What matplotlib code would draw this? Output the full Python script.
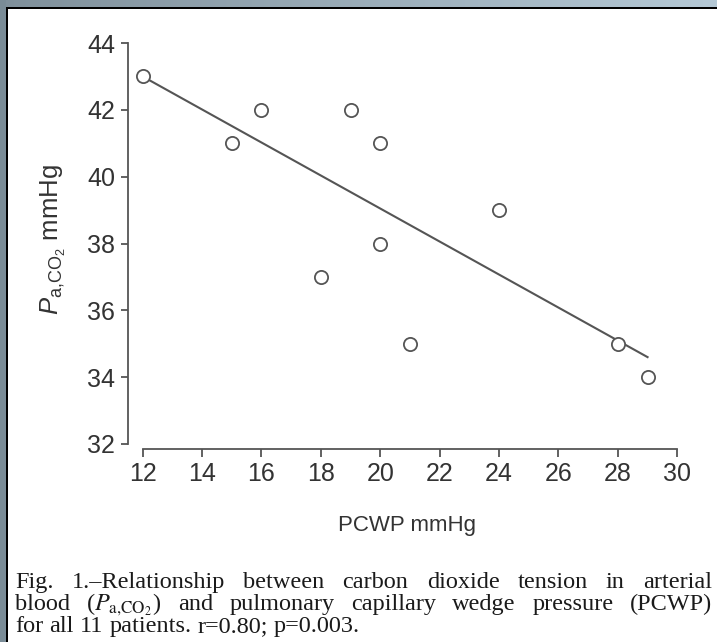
import matplotlib
matplotlib.use('Agg')
import matplotlib.pyplot as plt
import numpy as np
from matplotlib.patches import Rectangle
from matplotlib.colors import LinearSegmentedColormap
from matplotlib.transforms import IdentityTransform

plt.rcParams['font.family'] = ['Liberation Sans', 'DejaVu Sans']
plt.rcParams['mathtext.fontset'] = 'custom'
plt.rcParams['mathtext.rm'] = 'Liberation Sans'
plt.rcParams['mathtext.it'] = 'Liberation Sans:italic'
plt.rcParams['mathtext.bf'] = 'Liberation Sans:bold'

# ---- data ----
pcwp = [12, 15, 16, 18, 19, 20, 20, 21, 24, 28, 29]
paco2 = [43, 41, 42, 37, 42, 41, 38, 35, 39, 35, 34]
fit_x = [12, 29]
fit_y = [43.0, 34.6]
xticks = [12, 14, 16, 18, 20, 22, 24, 26, 28, 30]
yticks = [32, 34, 36, 38, 40, 42, 44]
xlabel = 'PCWP mmHg'
ylabel = r'$P_{\mathrm{a{,}CO_2}}$ mmHg'
caption_lines = [
    'Fig. 1.\u2013Relationship between carbon dioxide tension in arterial',
    r'blood ($P_{\mathrm{a{,}CO_2}}$) and pulmonary capillary wedge pressure (PCWP)',
    'for all 11 patients. r=0.80; p=0.003.',
]

W, H = 717, 642
fig = plt.figure(figsize=(W / 100, H / 100), dpi=100)
fig.patch.set_facecolor('white')

# ---- frame ----
bg = fig.add_axes([0, 0, 1, 1])
bg.axis('off')
grad = np.linspace(0, 1, 256)[None, :]
cmap = LinearSegmentedColormap.from_list('g', ['#7f909b', '#b5c9d6'])
bg.imshow(grad, extent=(0, W, 7, 0), cmap=cmap, aspect='auto')
bg.add_patch(Rectangle((0, 0), 6, H, color='#7a8c97', lw=0))
bg.add_patch(Rectangle((6, 7), 2, H - 7, color='black', lw=0))
bg.add_patch(Rectangle((6, 7), W - 6, 2, color='black', lw=0))
bg.set_xlim(0, W)
bg.set_ylim(H, 0)

# ---- plot ----
gc = '#555555'
ax = fig.add_axes([127.5 / W, (H - 448.5) / H, 555.7 / W, 408.8 / H])
ax.patch.set_alpha(0)
ax.set_xlim(11.49, 30.2)
ax.set_ylim(31.865, 44.1)
for s in ['top', 'right']:
    ax.spines[s].set_visible(False)
for s in ['left', 'bottom']:
    ax.spines[s].set_color(gc)
    ax.spines[s].set_linewidth(1.3)
ax.spines['left'].set_bounds(32, 44)
ax.spines['bottom'].set_bounds(12, 30)
ax.set_xticks(xticks)
ax.set_yticks(yticks)
ax.tick_params(axis='both', colors=gc, labelcolor='#333333', labelsize=18,
               width=1.3)
ax.tick_params(axis='y', length=5, pad=4)
ax.tick_params(axis='x', length=6, pad=4)

ax.plot(fit_x, fit_y, color=gc, lw=1.5, zorder=2)
ax.plot(pcwp, paco2, 'o', mfc='white', mec=gc, ms=9.5, mew=1.3, zorder=3,
        clip_on=False)

fig.text(53 / W, 1 - 240 / H, ylabel, rotation=90, ha='center', va='center',
         fontsize=18.5, color='#333333')
fig.text(407 / W, 1 - 525 / H, xlabel, ha='center', va='center',
         fontsize=16, color='#333333')

# ---- caption (justified) ----
renderer = fig.canvas.get_renderer()
cfs = 17.5
x0, x1 = 15, 712
baselines = [588, 610, 632]
for i, (line, yb) in enumerate(zip(caption_lines, baselines)):
    words = line.split(' ')
    ts = [fig.text(0, H - yb, w, transform=IdentityTransform(),
                   fontsize=cfs, family='Liberation Serif', color='#1a1a1a',
                   va='baseline', ha='left', math_fontfamily='stix')
          for w in words]
    widths = [t.get_window_extent(renderer).width for t in ts]
    if i < len(caption_lines) - 1:
        gap = (x1 - x0 - sum(widths)) / (len(words) - 1)
    else:
        sp = fig.text(0, 0, 'a a', fontsize=cfs, family='Liberation Serif')
        sp2 = fig.text(0, 0, 'aa', fontsize=cfs, family='Liberation Serif')
        gap = sp.get_window_extent(renderer).width - sp2.get_window_extent(renderer).width
        sp.remove(); sp2.remove()
    x = x0
    for t, w in zip(ts, widths):
        t.set_x(x)
        x += w + gap

fig.savefig('out.png', dpi=100)
